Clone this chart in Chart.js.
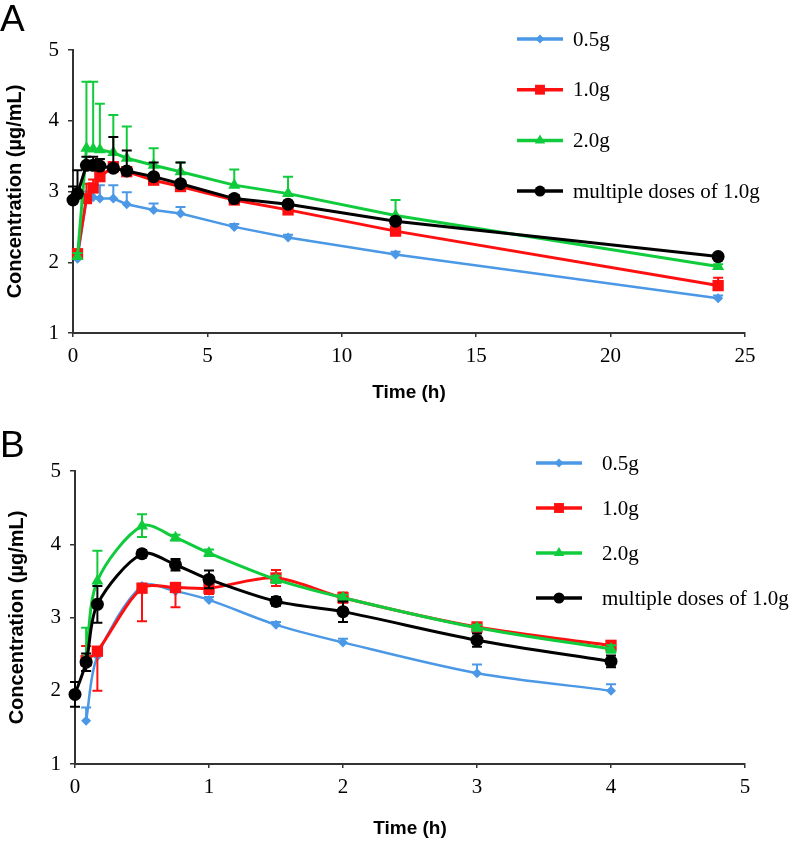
<!DOCTYPE html>
<html>
<head>
<meta charset="utf-8">
<script src="https://cdn.jsdelivr.net/npm/chart.js@4.4.1/dist/chart.umd.min.js"></script>
<style>
  body { margin: 0; background: #fff; }
  canvas { display: block; }
</style>
</head>
<body>
<canvas id="chartA" width="791" height="420"></canvas>
<canvas id="chartB" width="791" height="422"></canvas>
<script>
// ---- data ----
var seriesNames = ['0.5g', '1.0g', '2.0g', 'multiple doses of 1.0g'];

// panel A : 0 - 24 h  (error bars only drawn upward)
var timeA = [0, 0.167, 0.5, 0.75, 1, 1.5, 2, 3, 4, 6, 8, 12, 24];
var a05  = [null, 2.05, 2.90, 2.92, 2.90, 2.90, 2.82, 2.74, 2.69, 2.50, 2.35, 2.11, 1.49];
var a10  = [null, 2.12, 2.90, 3.05, 3.21, 3.35, 3.28, 3.16, 3.07, 2.88, 2.74, 2.44, 1.67];
var a20  = [null, 2.08, 3.61, 3.60, 3.59, 3.55, 3.47, 3.37, 3.28, 3.09, 2.97, 2.66, 1.94];
var aMul = [2.88, 2.97, 3.37, 3.37, 3.36, 3.33, 3.29, 3.21, 3.11, 2.90, 2.82, 2.58, 2.08];
var a05Up  = [null, 0.03, 0.10, 0.15, 0.19, 0.19, 0.17, 0.09, 0.09, 0.04, 0.04, 0.04, 0.04];
var a10Up  = [null, 0.05, 0.21, 0.12, 0.10, 0.06, 0.05, 0.05, 0.05, 0.04, 0.04, 0.04, 0.11];
var a20Up  = [null, 0.05, 0.94, 0.95, 0.65, 0.53, 0.45, 0.24, 0.13, 0.22, 0.24, 0.22, 0.03];
var aMulUp = [0.19, 0.33, 0.12, 0.12, 0.10, 0.44, 0.29, 0.20, 0.30, 0.05, 0.05, 0.04, 0.04];

// panel B : 0 - 4 h
var timeB = [0, 0.083, 0.167, 0.5, 0.75, 1, 1.5, 2, 3, 4];
var b05  = [null, 1.59, 2.47, 3.43, 3.36, 3.24, 2.90, 2.66, 2.24, 2.00];
var b10  = [null, 2.41, 2.54, 3.40, 3.41, 3.40, 3.54, 3.27, 2.87, 2.62];
var b20  = [null, 2.45, 3.50, 4.25, 4.09, 3.88, 3.52, 3.27, 2.86, 2.57];
var bMul = [1.95, 2.39, 3.18, 3.87, 3.72, 3.52, 3.22, 3.08, 2.69, 2.40];
var b05Up    = [null, 0.18, 0.05, 0.03, 0.03, 0.04, 0.04, 0.05, 0.12, 0.09];
var b05Down  = [null, 0, 0, 0, 0, 0, 0, 0, 0, 0];
var b10Up    = [null, 0.20, 0, 0, 0.05, 0.08, 0.11, 0.07, 0.06, 0.05];
var b10Down  = [null, 0.14, 0.54, 0.45, 0.27, 0.08, 0.11, 0.07, 0.06, 0.05];
var b20Up    = [null, 0.41, 0.41, 0.16, 0.04, 0.05, 0.05, 0.04, 0.04, 0.05];
var b20Down  = [null, 0, 0, 0.15, 0.04, 0.04, 0.05, 0.04, 0.04, 0.05];
var bMulUp   = [0.17, 0.12, 0.25, 0.05, 0.08, 0.12, 0.06, 0.14, 0.09, 0.08];
var bMulDown = [0.17, 0.12, 0.25, 0.05, 0.08, 0.12, 0.06, 0.14, 0.09, 0.08];

var colors = ['#4a98e6', '#ff1010', '#10cc3c', '#000000'];
var styles = ['rectRot', 'rect', 'triangle', 'circle'];
var radii  = [5, 8, 7, 6.5];
var drawOrder = [3, 2, 1, 0];

function toPoints(times, vals, ups, downs) {
    var pts = [];
    for (let i = 0; i < times.length; i++) {
        if (vals[i] === null) {
            continue;
        }
        pts.push({ x: times[i], y: vals[i], up: ups[i] || 0, down: downs ? (downs[i] || 0) : 0 });
    }
    return pts;
}

function makeDatasets(times, valueLists, upLists, downLists, tension) {
    return valueLists.map(function (vals, k) {
        return {
            label: seriesNames[k],
            data: toPoints(times, vals, upLists[k], downLists ? downLists[k] : null),
            borderColor: colors[k],
            backgroundColor: colors[k],
            borderWidth: k === 0 ? 2.5 : 3,
            pointStyle: styles[k],
            pointRadius: radii[k],
            pointBorderWidth: 0,
            pointHoverRadius: radii[k],
            tension: tension,
            clip: false,
            order: drawOrder[k]
        };
    });
}

// error bars, drawn right after each dataset
const errorBars = {
    id: 'errorBars',
    afterDatasetDraw(chart, args) {
        const ctx = chart.ctx;
        const ds = chart.data.datasets[args.index];
        const yScale = chart.scales.y;
        ctx.save();
        ctx.strokeStyle = ds.borderColor;
        ctx.lineWidth = 2;
        args.meta.data.forEach(function (pt, i) {
            const d = ds.data[i];
            ctx.beginPath();
            if (d.up) {
                const yTop = yScale.getPixelForValue(d.y + d.up);
                ctx.moveTo(pt.x, pt.y);
                ctx.lineTo(pt.x, yTop);
                ctx.moveTo(pt.x - 5, yTop);
                ctx.lineTo(pt.x + 5, yTop);
            }
            if (d.down) {
                const yBot = yScale.getPixelForValue(d.y - d.down);
                ctx.moveTo(pt.x, pt.y);
                ctx.lineTo(pt.x, yBot);
                ctx.moveTo(pt.x - 5, yBot);
                ctx.lineTo(pt.x + 5, yBot);
            }
            ctx.stroke();
        });
        ctx.restore();
    }
};

// legend inside the plot, panel letter in the corner
const sideLegend = {
    id: 'sideLegend',
    afterDraw(chart, args, opts) {
        const ctx = chart.ctx;
        ctx.save();
        ctx.fillStyle = '#000';
        ctx.font = '37px "Liberation Sans"';
        ctx.textBaseline = 'alphabetic';
        ctx.fillText(opts.letter, 0, opts.letterY);

        ctx.font = '21px "Liberation Serif"';
        ctx.textBaseline = 'middle';
        chart.data.datasets.forEach(function (ds, k) {
            const y = opts.top + k * opts.step;
            ctx.strokeStyle = ds.borderColor;
            ctx.lineWidth = 3.5;
            ctx.beginPath();
            ctx.moveTo(opts.x, y);
            ctx.lineTo(opts.x + 46, y);
            ctx.stroke();
            ctx.fillStyle = ds.borderColor;
            Chart.helpers.drawPoint(ctx, {
                pointStyle: ds.pointStyle,
                radius: [4.5, 7, 6, 5.5][k],
                rotation: 0,
                borderWidth: 0
            }, opts.x + 23, y);
            ctx.fillStyle = '#000';
            ctx.fillText(ds.label, opts.x + opts.textGap, y + 1);
        });
        ctx.restore();
    }
};

function axisOptions(xMax, xStep, xHeight, titleBottom) {
    return {
        x: {
            type: 'linear',
            min: 0,
            max: xMax,
            afterFit: function (scale) { scale.height = xHeight; },
            ticks: {
                stepSize: xStep,
                color: '#000',
                padding: 7,
                font: { family: 'Liberation Serif', size: 21 }
            },
            grid: { drawOnChartArea: false, tickLength: 4, color: '#333', lineWidth: 1.5 },
            border: { color: '#333', width: 2 },
            title: {
                display: true,
                text: 'Time (h)',
                color: '#000',
                font: { family: 'Liberation Sans', size: 19, weight: 'bold' },
                padding: { top: 0, bottom: titleBottom }
            }
        },
        y: {
            type: 'linear',
            min: 1,
            max: 5,
            afterFit: function (scale) { scale.width = 73; },
            ticks: {
                stepSize: 1,
                color: '#000',
                padding: 9,
                font: { family: 'Liberation Serif', size: 21 }
            },
            grid: { drawOnChartArea: false, tickLength: 5, color: '#333', lineWidth: 1.5 },
            border: { color: '#333', width: 2 },
            title: {
                display: true,
                text: 'Concentration (µg/mL)',
                color: '#000',
                font: { family: 'Liberation Sans', size: 20, weight: 'bold' },
                padding: { top: 3, bottom: 0 }
            }
        }
    };
}

new Chart(document.getElementById('chartA'), {
    type: 'line',
    data: {
        datasets: makeDatasets(timeA, [a05, a10, a20, aMul], [a05Up, a10Up, a20Up, aMulUp], null, 0)
    },
    options: {
        responsive: false,
        animation: false,
        layout: { padding: { top: 50, right: 46, left: 0, bottom: 0 } },
        scales: axisOptions(25, 5, 87, 16),
        plugins: {
            legend: { display: false },
            tooltip: { enabled: false },
            sideLegend: { letter: 'A', letterY: 31, x: 517, top: 39, step: 50.7, textGap: 56 }
        }
    },
    plugins: [errorBars, sideLegend]
});

new Chart(document.getElementById('chartB'), {
    type: 'line',
    data: {
        datasets: makeDatasets(timeB, [b05, b10, b20, bMul],
            [b05Up, b10Up, b20Up, bMulUp], [b05Down, b10Down, b20Down, bMulDown], 0.3)
    },
    options: {
        responsive: false,
        animation: false,
        layout: { padding: { top: 51, right: 46, left: 2, bottom: 0 } },
        scales: axisOptions(5, 1, 78, 2),
        plugins: {
            legend: { display: false },
            tooltip: { enabled: false },
            sideLegend: { letter: 'B', letterY: 37, x: 536, top: 43, step: 45, textGap: 66 }
        }
    },
    plugins: [errorBars, sideLegend]
});
</script>
</body>
</html>
